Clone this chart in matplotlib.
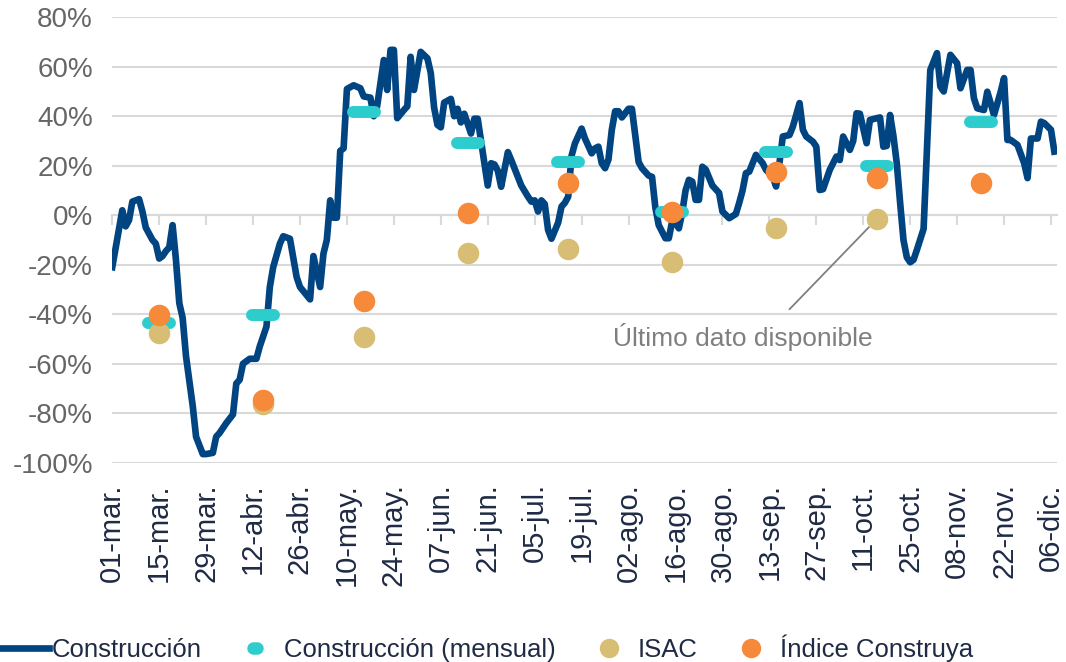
import numpy as np
import pandas as pd
import matplotlib
matplotlib.use('Agg')
import matplotlib.pyplot as plt
from matplotlib.lines import Line2D
from matplotlib.markers import MarkerStyle

plt.rcParams['font.family'] = ['Liberation Sans', 'DejaVu Sans']

# Serie diaria "Construcción" (% a/a)
fechas = ['2020-03-01', '2020-03-04', '2020-03-05', '2020-03-06', '2020-03-07', '2020-03-09',
          '2020-03-10', '2020-03-11', '2020-03-13', '2020-03-14', '2020-03-15', '2020-03-16',
          '2020-03-17', '2020-03-18', '2020-03-19', '2020-03-20', '2020-03-21', '2020-03-22',
          '2020-03-23', '2020-03-25', '2020-03-26', '2020-03-28', '2020-03-29', '2020-03-31',
          '2020-04-01', '2020-04-02', '2020-04-04', '2020-04-06', '2020-04-07', '2020-04-08',
          '2020-04-09', '2020-04-11', '2020-04-13', '2020-04-14', '2020-04-16', '2020-04-17',
          '2020-04-18', '2020-04-20', '2020-04-21', '2020-04-23', '2020-04-25', '2020-04-26',
          '2020-04-29', '2020-04-30', '2020-05-02', '2020-05-03', '2020-05-04', '2020-05-05',
          '2020-05-06', '2020-05-07', '2020-05-08', '2020-05-09', '2020-05-10', '2020-05-12',
          '2020-05-14', '2020-05-15', '2020-05-17', '2020-05-18', '2020-05-19', '2020-05-21',
          '2020-05-22', '2020-05-23', '2020-05-24', '2020-05-25', '2020-05-27', '2020-05-28',
          '2020-05-29', '2020-05-30', '2020-06-01', '2020-06-03', '2020-06-04', '2020-06-05',
          '2020-06-06', '2020-06-07', '2020-06-08', '2020-06-10', '2020-06-11', '2020-06-12',
          '2020-06-13', '2020-06-14', '2020-06-16', '2020-06-17', '2020-06-18', '2020-06-21',
          '2020-06-22', '2020-06-23', '2020-06-24', '2020-06-25', '2020-06-27', '2020-06-28',
          '2020-06-30', '2020-07-01', '2020-07-03', '2020-07-04', '2020-07-05', '2020-07-06',
          '2020-07-07', '2020-07-08', '2020-07-09', '2020-07-10', '2020-07-12', '2020-07-13',
          '2020-07-14', '2020-07-15', '2020-07-16', '2020-07-17', '2020-07-19', '2020-07-20',
          '2020-07-22', '2020-07-23', '2020-07-24', '2020-07-25', '2020-07-26', '2020-07-27',
          '2020-07-28', '2020-07-29', '2020-07-30', '2020-07-31', '2020-08-02', '2020-08-03',
          '2020-08-05', '2020-08-06', '2020-08-08', '2020-08-09', '2020-08-10', '2020-08-11',
          '2020-08-13', '2020-08-14', '2020-08-15', '2020-08-16', '2020-08-17', '2020-08-18',
          '2020-08-19', '2020-08-20', '2020-08-21', '2020-08-22', '2020-08-23', '2020-08-24',
          '2020-08-25', '2020-08-27', '2020-08-29', '2020-08-30', '2020-09-01', '2020-09-03',
          '2020-09-04', '2020-09-05', '2020-09-06', '2020-09-07', '2020-09-09', '2020-09-11',
          '2020-09-12', '2020-09-14', '2020-09-15', '2020-09-16', '2020-09-17', '2020-09-19',
          '2020-09-20', '2020-09-22', '2020-09-23', '2020-09-24', '2020-09-26', '2020-09-27',
          '2020-09-28', '2020-09-29', '2020-10-01', '2020-10-03', '2020-10-04', '2020-10-05',
          '2020-10-07', '2020-10-08', '2020-10-09', '2020-10-10', '2020-10-12', '2020-10-13',
          '2020-10-15', '2020-10-16', '2020-10-17', '2020-10-18', '2020-10-19', '2020-10-20',
          '2020-10-21', '2020-10-22', '2020-10-23', '2020-10-24', '2020-10-25', '2020-10-26',
          '2020-10-27', '2020-10-29', '2020-10-30', '2020-10-31', '2020-11-02', '2020-11-03',
          '2020-11-04', '2020-11-06', '2020-11-08', '2020-11-09', '2020-11-11', '2020-11-12',
          '2020-11-13', '2020-11-14', '2020-11-16', '2020-11-17', '2020-11-19', '2020-11-21',
          '2020-11-22', '2020-11-23', '2020-11-24', '2020-11-26', '2020-11-28', '2020-11-29',
          '2020-11-30', '2020-12-02', '2020-12-03', '2020-12-04', '2020-12-06', '2020-12-07']
construccion = [-21, 2, -4.5, -2, 5.5, 6.5,
                1.5, -5, -10, -11.5, -17.5, -16.5,
                -14.5, -13, -4, -18, -35.5, -41.5,
                -57, -77, -89.5, -96.5, -96.5, -96,
                -89.5, -88, -84, -80.5, -68, -66.5,
                -60, -58, -58, -53, -45, -29,
                -21, -11.5, -8.5, -9.5, -25, -29,
                -34, -16.5, -29, -15.5, -10, 6,
                -1, -1, 26, 27, 51, 52.5,
                51.3, 48, 47.5, 40, 44, 62.7,
                50.6, 66.8, 66.8, 39.2, 42.5, 44,
                64, 50.6, 66, 63.4, 57.5, 43.5,
                36.5, 35.5, 45.5, 47, 40, 43,
                37.5, 41, 33, 39, 39, 12,
                21, 20.5, 18, 11.5, 25.5, 22.3,
                15.5, 12, 7.5, 5.5, 6, 1.5,
                6, 4.5, -6, -9.5, -3, 3.5,
                5, 7.5, 24, 29, 35, 31,
                25, 27, 27.7, 21, 19, 22.5,
                34.5, 42, 42, 39.5, 43, 43,
                21.5, 19, 16, 15.5, 3, -4,
                -9.3, -9.3, -2.5, -3, -5.3, 1,
                10, 14.3, 13.6, 6.2, 6.2, 19.6,
                18.5, 12, 9, 1.5, -1.2, 0.5,
                5, 10, 17, 17.6, 24.4, 21,
                18.3, 15.6, 11.6, 21, 31.8, 32.4,
                35.8, 45.3, 34.5, 31.8, 29.7, 27.7,
                10.2, 10.5, 18.3, 23.7, 22.3, 31.8,
                26.4, 30, 41.2, 41, 29.1, 38.5,
                39.2, 39.5, 27.7, 28, 40.5, 32,
                21, 5, -10, -17, -19, -18,
                -14, -5.5, 27, 58.7, 65.5, 52,
                50, 64.8, 61.4, 51.3, 58.7, 58.7,
                47.3, 43.2, 42.5, 49.9, 40.5, 49.9,
                55.4, 30.4, 30.4, 28.4, 21, 15,
                31, 31, 37.8, 37.2, 34.5, 25.7]

# Datos mensuales
meses = ['2020-03-15', '2020-04-15', '2020-05-15', '2020-06-15', '2020-07-15',
         '2020-08-15', '2020-09-15', '2020-10-15', '2020-11-15']
mensual = [-43.4, -40.3, 41.9, 29.1, 21.7, 1.5, 25.7, 20.0, 37.8]
isac = [-47.7, -76.2, -49.3, -15.4, -13.7, -18.7, -5.0, -1.6, np.nan]
construya = [-40.3, -74.6, -34.6, 0.8, 12.9, 1.5, 17.6, 15.2, 12.9]

etiquetas_x = ['01-mar.', '15-mar.', '29-mar.', '12-abr.', '26-abr.', '10-may.', '24-may.',
               '07-jun.', '21-jun.', '05-jul.', '19-jul.', '02-ago.', '16-ago.', '30-ago.',
               '13-sep.', '27-sep.', '11-oct.', '25-oct.', '08-nov.', '22-nov.', '06-dic.']
valores_y = [-100, -80, -60, -40, -20, 0, 20, 40, 60, 80]
etiquetas_y = ['-100%', '-80%', '-60%', '-40%', '-20%', '0%', '20%', '40%', '60%', '80%']

fechas = pd.to_datetime(fechas)
meses = pd.to_datetime(meses)
ticks_x = pd.date_range('2020-03-01', periods=len(etiquetas_x), freq='14D')

azul = '#004481'
turquesa = '#2DCCCD'
arena = '#D8BE75'
naranja = '#F7893B'
gris = '#D9D9D9'
texto = '#1F2A44'

fig = plt.figure(figsize=(10.66, 6.62), dpi=100)
ax = fig.add_axes([0.1053, 0.301, 0.886, 0.673])

# eje x sobre el 0 (antes de tocar las etiquetas, porque reinicia los ticks)
for lado in ['top', 'left', 'right']:
    ax.spines[lado].set_visible(False)
ax.spines['bottom'].set_position(('data', 0))
ax.spines['bottom'].set_color(gris)
ax.spines['bottom'].set_linewidth(1.5)
ax.spines['bottom'].set_zorder(1)

ax.plot(fechas, construccion, color=azul, lw=4.8, solid_joinstyle='round', zorder=3)
barra = MarkerStyle('_', capstyle='round')
ax.plot(meses, mensual, ls='none', marker=barra, ms=16, mew=8.6, color=turquesa, zorder=4)
ax.plot(meses, isac, ls='none', marker='o', ms=15.5, mew=0, color=arena, zorder=5)
ax.plot(meses, construya, ls='none', marker='o', ms=15.5, mew=0, color=naranja, zorder=6)

# nota
ax.annotate('', xy=(meses[7], isac[7]), xytext=(pd.Timestamp('2020-09-19'), -38),
            arrowprops=dict(arrowstyle='-', color='#7F7F7F', lw=1.3, shrinkA=0, shrinkB=8))
ax.text(pd.Timestamp('2020-09-05'), -49, 'Último dato disponible', ha='center', va='center',
        color='#7F7F7F', fontsize=19)

ax.set_xlim(pd.Timestamp('2020-03-01'), pd.Timestamp('2020-12-07 17:00'))
ax.set_ylim(-100, 80)
ax.set_yticks(valores_y)
ax.set_yticklabels(etiquetas_y)
ax.tick_params(axis='y', length=0, pad=14, labelsize=20, labelcolor='#666666')
ax.grid(axis='y', color=gris, lw=1.5)
ax.set_axisbelow(True)

ax.set_xticks(ticks_x)
ax.set_xticklabels(etiquetas_x)
ax.tick_params(axis='x', direction='out', length=7, width=1.5, color=gris, pad=186,
               labelrotation=90, labelsize=21, labelcolor=texto)

handles = [
    Line2D([], [], color=azul, lw=4.8),
    Line2D([], [], ls='none', marker=MarkerStyle('_', capstyle='round'), ms=3, mew=9, color=turquesa),
    Line2D([], [], ls='none', marker='o', ms=14, mew=0, color=arena),
    Line2D([], [], ls='none', marker='o', ms=14, mew=0, color=naranja),
]
labels = ['Construcción', 'Construcción (mensual)', 'ISAC', 'Índice Construya']
fig.legend(handles, labels, loc='center', bbox_to_anchor=(0.455, 0.021), ncol=4, frameon=False,
           fontsize=18.5, handlelength=2.0, handletextpad=0.1, columnspacing=1.1,
           borderpad=0, labelcolor=texto)

fig.savefig('out.png', dpi=100)
